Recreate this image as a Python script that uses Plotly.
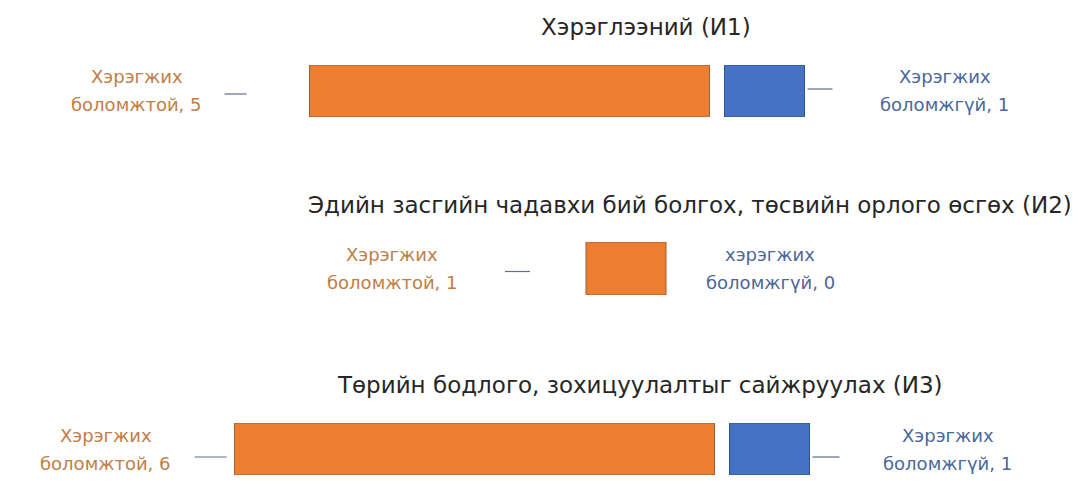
import plotly.graph_objects as go

# Indicator groups and counts of measures
titles = [
    "Хэрэглээний (И1)",
    "Эдийн засгийн чадавхи бий болгох, төсвийн орлого өсгөх (И2)",
    "Төрийн бодлого, зохицуулалтыг сайжруулах (И3)",
]
feasible = [5, 1, 6]
infeasible = [1, 0, 1]
feasible_word = ["Хэрэгжих", "Хэрэгжих", "Хэрэгжих"]
infeasible_word = ["Хэрэгжих", "хэрэгжих", "Хэрэгжих"]
feasible_tail = "боломжтой"
infeasible_tail = "боломжгүй"

ORANGE = "#ED7D31"
BLUE = "#4472C4"
ORANGE_TXT = "#C07E46"
BLUE_TXT = "#4B6899"
LEADER = "#5B6F93"
FONT = "DejaVu Sans"

W, H = 1080, 481
PX_PER_UNIT = 80.0
GAP_PX = 15

# per-row layout (pixels)
row_center_px = [557, 626, 522]           # horizontal centre of the bar group
row_bar_px = [(65, 117), (242, 295), (423, 475)]  # top / bottom of bars
title_px = [(646, 27), (690, 205), (640, 385)]
# left label: centre offset from bar start, leader dash offsets
left_lbl = [-173, -194, -129]
left_dash = [(-85, -63, 3), (-81, -56, 3), (-40, -8, 8)]
# right label: centre offset from group end, leader dash offsets
right_lbl = [140, 104, 138]
right_dash = [(3, 28, -2), None, (3, 30, 8)]

fig = go.Figure()
annotations = []
shapes = []
gap_units = GAP_PX / PX_PER_UNIT

for i in range(3):
    n = i + 1
    xa, ya = f"x{n if n > 1 else ''}", f"y{n if n > 1 else ''}"
    total_units = feasible[i] + (gap_units + infeasible[i] if infeasible[i] > 0 else 0)
    start_px = row_center_px[i] - total_units * PX_PER_UNIT / 2
    x_lo = -start_px / PX_PER_UNIT
    x_hi = x_lo + W / PX_PER_UNIT
    top, bot = row_bar_px[i]

    fig.add_trace(go.Bar(
        x=[feasible[i]], y=[0], base=[0], orientation="h", width=1,
        marker=dict(color=ORANGE, line=dict(color="#9C6036", width=1)),
        xaxis=xa, yaxis=ya, showlegend=False, hoverinfo="skip",
    ))
    end_units = feasible[i]
    if infeasible[i] > 0:
        fig.add_trace(go.Bar(
            x=[infeasible[i]], y=[0], base=[feasible[i] + gap_units],
            orientation="h", width=1,
            marker=dict(color=BLUE, line=dict(color="#30528C", width=1)),
            xaxis=xa, yaxis=ya, showlegend=False, hoverinfo="skip",
        ))
        end_units = feasible[i] + gap_units + infeasible[i]

    axis_key = "xaxis" if n == 1 else f"xaxis{n}"
    yaxis_key = "yaxis" if n == 1 else f"yaxis{n}"
    fig.update_layout(**{
        axis_key: dict(domain=[0, 1], range=[x_lo, x_hi], visible=False,
                       anchor=ya, fixedrange=True),
        yaxis_key: dict(domain=[1 - bot / H, 1 - top / H], range=[-0.5, 0.5],
                        visible=False, anchor=xa, fixedrange=True),
    })

    # title
    tx, ty = title_px[i]
    annotations.append(dict(
        text=titles[i], xref="paper", yref="paper", x=tx / W, y=1 - ty / H,
        xanchor="center", yanchor="middle", showarrow=False,
        font=dict(family=FONT, size=23, color="#262626"),
    ))

    # left label (two lines)
    for txt, dy in [(feasible_word[i], 14), (f"{feasible_tail}, {feasible[i]}", -14)]:
        annotations.append(dict(
            text=txt, xref=xa, yref=ya, x=0, y=0, xanchor="center",
            yanchor="middle", xshift=left_lbl[i], yshift=dy,
            showarrow=False, font=dict(family=FONT, size=18, color=ORANGE_TXT),
        ))
    d0, d1, dy = left_dash[i]
    shapes.append(dict(
        type="line", xref=xa, yref=ya, xsizemode="pixel", xanchor=0,
        ysizemode="pixel", yanchor=0, x0=d0, x1=d1, y0=-dy, y1=-dy,
        line=dict(color=LEADER, width=1.2),
    ))

    # right label (two lines)
    for txt, dy in [(infeasible_word[i], 14), (f"{infeasible_tail}, {infeasible[i]}", -14)]:
        annotations.append(dict(
            text=txt, xref=xa, yref=ya, x=end_units, y=0, xanchor="center",
            yanchor="middle", xshift=right_lbl[i], yshift=dy,
            showarrow=False, font=dict(family=FONT, size=18, color=BLUE_TXT),
        ))
    if right_dash[i] is not None:
        d0, d1, dy = right_dash[i]
        shapes.append(dict(
            type="line", xref=xa, yref=ya, xsizemode="pixel", xanchor=end_units,
            ysizemode="pixel", yanchor=0, x0=d0, x1=d1, y0=-dy, y1=-dy,
            line=dict(color=LEADER, width=1.2),
        ))

fig.update_layout(
    width=W, height=H, margin=dict(l=0, r=0, t=0, b=0),
    paper_bgcolor="white", plot_bgcolor="rgba(0,0,0,0)",
    barmode="overlay", annotations=annotations, shapes=shapes,
    showlegend=False,
)

fig.write_html("out.html", config={"displayModeBar": False})
